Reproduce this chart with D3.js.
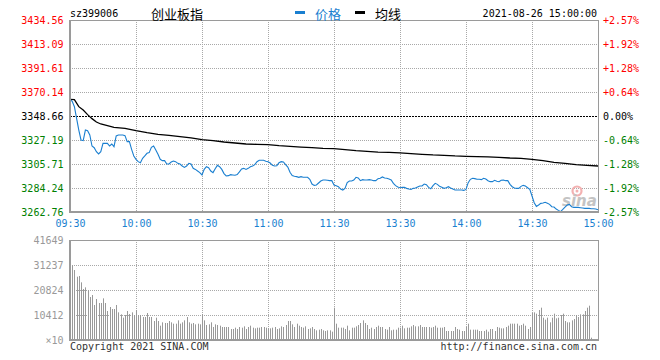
<!DOCTYPE html>
<html><head><meta charset="utf-8">
<script src="https://cdn.jsdelivr.net/npm/d3@7"></script>
<style>
body{margin:0;background:#fff}
svg{display:block}
</style></head>
<body><svg id="c" width="660" height="360"></svg>
<script>
// ---------- data ----------
const code = "sz399006";
const indexName = "创业板指";
const dateText = "2021-08-26 15:00:00";
const legendNames = ["价格", "均线"];
const prevClose = 3348.66;
const priceTicks = [3434.56,3413.09,3391.61,3370.14,3348.66,3327.19,3305.71,3284.24,3262.76];
const pctTicks = ["+2.57%","+1.92%","+1.28%","+0.64%","0.00%","-0.64%","-1.28%","-1.92%","-2.57%"];
const timeTicks = ["09:30","10:00","10:30","11:00","11:30","13:30","14:00","14:30","15:00"];
const volTicks = [41649,31237,20824,10412];
const volUnit = "×10";
const copyright = "Copyright 2021 SINA.COM";
const siteUrl = "http://finance.sina.com.cn";

// price per minute (index 0 = 09:30 ... 240 = 15:00)
const price = [
3363.6,3361.8,3357.0,3346.6,3336.1,3327.2,3326.6,3336.1,3335.5,3331.7,
3321.8,3320.3,3316.7,3314.7,3316.7,3324.2,3324.2,3324.2,3321.8,3323.6,
3321.2,3330.8,3331.7,3331.7,3331.7,3331.1,3325.7,3325.7,3318.8,3312.9,
3309.9,3307.8,3306.9,3310.8,3312.9,3315.3,3315.9,3320.6,3321.8,3318.2,
3314.4,3309.9,3308.7,3308.7,3305.7,3305.7,3307.5,3308.4,3307.8,3306.3,
3305.7,3303.9,3302.7,3303.9,3306.3,3305.7,3301.8,3300.9,3299.4,3298.0,
3295.9,
3300.9,3303.3,3302.4,3299.4,3298.0,3301.5,3304.5,3303.3,3300.9,3297.1,
3295.0,3295.3,3296.2,3295.9,3295.6,3296.2,3298.6,3301.2,3301.8,3300.9,
3301.8,3303.3,3303.9,3305.1,3307.8,3309.0,3309.0,3309.0,3308.1,3307.8,
3306.6,3304.5,3303.9,3304.2,3306.9,3307.8,3307.5,3305.1,3303.0,3298.3,
3295.3,3294.7,3294.4,3293.8,3294.4,3293.8,3293.8,3293.8,3292.0,3287.8,
3286.6,3286.9,3288.7,3290.5,3291.4,3291.4,3291.1,3290.8,3290.8,3286.9,
3286.3,3285.4,3283.3,3282.4,3283.9,3289.0,3290.5,3290.5,3291.4,3293.8,
3293.2,3290.8,3291.7,3291.4,3291.4,3291.7,3291.4,3290.8,3290.8,3292.6,
3292.9,3294.1,3293.2,3292.9,3292.3,3291.4,3288.4,3286.3,3285.1,3284.5,
3284.8,3284.8,3283.9,3283.3,3283.0,3283.9,3284.2,3285.1,3286.0,3286.0,
3287.8,3287.2,3284.8,3283.6,3286.3,3288.4,3287.5,3285.7,3284.8,3283.9,
3284.5,3285.4,3284.2,3283.3,3282.4,3282.4,3282.4,3282.4,3282.1,3283.0,
3289.0,3292.0,3292.9,3292.6,3292.0,3292.0,3291.7,3292.9,3292.3,3290.8,
3289.9,3289.9,3291.1,3290.2,3289.9,3291.1,3291.4,3290.8,3290.8,3287.5,
3285.4,3284.2,3283.9,3283.9,3285.7,3286.6,3286.0,3284.5,3283.0,3277.1,
3271.1,3267.8,3269.0,3270.5,3270.8,3271.4,3270.5,3269.6,3267.5,3267.2,
3265.4,3264.2,3263.1,3265.1,3267.2,3269.0,3269.6,3267.5,3266.9,3266.9,
3266.9,3266.6,3266.3,3266.0,3266.0,3266.0,3265.7,3265.7,3265.4,3264.8
];

// average line, read at these minute indexes
const avgMinute = [0,2,4,6,8,10,12,14,17,20,25,30,35,40,45,50,55,60,65,70,75,80,85,90,95,100,
105,110,115,120,125,130,135,140,145,150,155,160,165,170,175,180,185,190,195,200,205,210,215,220,225,230,235,240];
const avgPrice = [3363.6,3363.3,3357.0,3354.0,3349.9,3346.3,3343.3,3341.5,3340.0,3338.5,
3337.6,3335.5,3333.7,3332.3,3331.4,3330.2,3329.0,3327.5,3326.6,3325.4,3324.5,3323.6,3323.3,3323.0,
3322.1,3321.5,3320.9,3320.3,3319.7,3319.4,3318.5,3317.6,3317.0,3316.4,3316.1,3315.6,3315.0,3314.4,
3313.8,3313.5,3312.9,3312.6,3312.3,3312.0,3311.7,3311.1,3310.8,3309.9,3308.7,3307.2,3306.3,3305.1,3304.5,3303.9];

// volume per minute, minutes 1..240
const volume = [
31091,29148,26372,26650,24012,21236,21930,20681,17905,18738,
14574,17072,15407,15407,17350,15407,12076,13741,12908,12908,
14574,11520,10688,9300,10410,12076,10826,11520,10410,12492,
10410,10410,9577,9577,11243,9577,9577,7912,9300,7912,
5968,7356,7079,7079,7912,7356,6801,6801,8189,6801,
7356,8189,9577,7356,6801,7079,6524,6801,6524,10826,
8189,6246,6524,7356,5413,6524,6246,5968,5413,5413,
5413,5413,4580,4580,5136,4580,5413,5136,5691,4580,
5413,5968,5136,4858,5136,5136,5413,5413,5136,4858,
4858,5136,5413,4580,4858,5691,5413,6246,7912,7912,
6524,5413,6801,5968,5413,5136,5691,4580,4858,5413,
4580,4025,4303,4580,4025,3748,4025,4025,3470,13464,
6801,5136,5136,5136,4580,5968,4025,5136,5136,5691,
6246,7079,8189,7079,6246,4580,5136,4580,5413,5968,
5413,5413,4580,4303,5413,4025,4303,4303,5136,5136,
5968,4858,5136,5136,5691,6246,5691,5691,6246,5413,
5413,5413,5413,5136,5413,5968,5136,5136,5136,5413,
3748,3748,3748,3748,5413,4580,4303,3748,3748,5413,
6801,4303,4303,4303,4303,3748,3748,3748,4303,3470,
4580,4580,3748,5413,5136,4858,4858,5413,5968,6801,
6801,6801,6801,5968,6246,6801,5968,4580,5413,11243,
11520,10965,12492,13464,9300,8467,9300,7356,9300,10965,
9022,9300,10410,10965,7912,7356,7356,8189,8744,10410,
9577,10688,10688,12076,13464,14296,972,0,0,0
];

// ---------- layout ----------
const L = 70, R = 598, PT = 20, PB = 212, VT = 240, VB = 340;
const MONO = "'DejaVu Sans Mono','Liberation Mono',monospace";
const CJK = "'Noto Sans CJK SC','Noto Sans',sans-serif";
const BLUE = "#1a7fd0", GRID = "#a8a8a8", FRAME = "#9a9a9a";
const RED = "#ff0000", GREEN = "#008000";

const svg = d3.select("#c");
const x = d3.scaleLinear().domain([0, 240]).range([L, R]);
const y = d3.scaleLinear().domain([priceTicks[priceTicks.length-1], priceTicks[0]]).range([PB, PT]);
const yv = d3.scaleLinear().domain([0, volTicks[0]]).range([VB, VT]);
const colorOf = v => v > prevClose + 0.001 ? RED : (v < prevClose - 0.001 ? GREEN : "#000");
const crisp = v => Math.round(v) + 0.5;

// ---------- grids ----------
const grid = svg.append("g");
const vIdx = d3.range(30, 240, 30);
// price area
grid.selectAll(".pv").data(vIdx).join("line")
  .attr("x1", d => crisp(x(d))).attr("x2", d => crisp(x(d)))
  .attr("y1", PT).attr("y2", PB)
  .attr("stroke", GRID).attr("stroke-dasharray", "1,1");
grid.selectAll(".ph").data(priceTicks.slice(1, -1).filter(v => v !== prevClose)).join("line")
  .attr("x1", L).attr("x2", R)
  .attr("y1", d => crisp(y(d))).attr("y2", d => crisp(y(d)))
  .attr("stroke", GRID).attr("stroke-dasharray", "1,1");
// volume area
grid.selectAll(".vv").data(vIdx).join("line")
  .attr("x1", d => crisp(x(d))).attr("x2", d => crisp(x(d)))
  .attr("y1", VT).attr("y2", VB)
  .attr("stroke", GRID).attr("stroke-dasharray", "1,1");
grid.selectAll(".vh").data(volTicks.slice(1)).join("line")
  .attr("x1", L).attr("x2", R)
  .attr("y1", d => crisp(yv(d))).attr("y2", d => crisp(yv(d)))
  .attr("stroke", GRID).attr("stroke-dasharray", "1,1");

// zero line (previous close)
svg.append("line")
  .attr("x1", L).attr("x2", R)
  .attr("y1", crisp(y(prevClose))).attr("y2", crisp(y(prevClose)))
  .attr("stroke", "#000").attr("stroke-dasharray", "2,1");

// ---------- watermark ----------
const wm = svg.append("g");
wm.append("circle").attr("cx", 577).attr("cy", 191).attr("r", 4.5)
  .attr("fill", "none").attr("stroke", "#f3b1b1").attr("stroke-width", 2.2);
wm.append("circle").attr("cx", 577).attr("cy", 191).attr("r", 1.5).attr("fill", "#f3b1b1");
wm.append("text").attr("x", 562).attr("y", 206)
  .attr("font-family", "'DejaVu Sans',sans-serif").attr("font-style", "italic")
  .attr("font-weight", "bold").attr("font-size", 15).attr("fill", "#c4c4c4").text("sina");

// ---------- volume bars ----------
svg.append("g").selectAll("rect").data(volume).join("rect")
  .attr("x", (d, i) => Math.round(x(i + 1)))
  .attr("width", 1)
  .attr("y", d => yv(d))
  .attr("height", d => VB - yv(d))
  .attr("fill", "#999");

// ---------- lines ----------
svg.append("path").datum(avgPrice)
  .attr("d", d3.line().x((d, i) => x(avgMinute[i])).y(d => y(d)))
  .attr("fill", "none").attr("stroke", "#000").attr("stroke-width", 1.3);
svg.append("path").datum(price)
  .attr("d", d3.line().x((d, i) => x(i)).y(d => y(d)))
  .attr("fill", "none").attr("stroke", BLUE).attr("stroke-width", 1.1);

// ---------- frames ----------
function frame(top, bottom) {
  const f = svg.append("g").attr("stroke", FRAME).attr("fill", "none");
  f.append("line").attr("x1", L).attr("x2", R + 1).attr("y1", top + 0.5).attr("y2", top + 0.5);
  f.append("line").attr("x1", R + 0.5).attr("x2", R + 0.5).attr("y1", top).attr("y2", bottom + 1);
  f.append("line").attr("x1", L - 1).attr("x2", R + 1).attr("y1", bottom).attr("y2", bottom).attr("stroke-width", 2);
  f.append("line").attr("x1", L).attr("x2", L).attr("y1", top).attr("y2", bottom + 1).attr("stroke-width", 2);
}
frame(PT, PB);
frame(VT, VB);

// ---------- axes ----------
function styleAxis(g) {
  g.select(".domain").remove();
  g.selectAll("line").remove();
  g.attr("font-family", MONO).attr("font-size", 10);
}
svg.append("g").attr("transform", `translate(${L - 0.5},0)`)
  .call(d3.axisLeft(y).tickValues(priceTicks).tickSize(0).tickPadding(6).tickFormat(d3.format(".2f")))
  .call(styleAxis)
  .selectAll("text").attr("fill", d => colorOf(d));

svg.append("g").attr("transform", `translate(${R},0)`)
  .call(d3.axisRight(y).tickValues(priceTicks).tickSize(0).tickPadding(5).tickFormat((d, i) => pctTicks[i]))
  .call(styleAxis)
  .selectAll("text").attr("fill", d => colorOf(d));

svg.append("g").attr("transform", `translate(0,${PB})`)
  .call(d3.axisBottom(x).tickValues(d3.range(0, 241, 30)).tickSize(0).tickPadding(8).tickFormat((d, i) => timeTicks[i]))
  .call(styleAxis)
  .selectAll("text").attr("fill", BLUE);

svg.append("g").attr("transform", `translate(${L - 0.5},0)`)
  .call(d3.axisLeft(yv).tickValues(volTicks.concat([0])).tickSize(0).tickPadding(6)
    .tickFormat(d => d === 0 ? volUnit : String(d)))
  .call(styleAxis)
  .selectAll("text").attr("fill", "#999");

// ---------- header ----------
svg.append("text").attr("x", L).attr("y", 13).attr("dy", "0.35em")
  .attr("font-family", MONO).attr("font-size", 10).attr("fill", "#000").text(code);
svg.append("text").attr("x", 151).attr("y", 13).attr("dominant-baseline", "central")
  .attr("font-family", CJK).attr("font-size", 13).attr("fill", "#000").text(indexName);
svg.append("rect").attr("x", 295).attr("y", 11).attr("width", 10).attr("height", 3).attr("fill", BLUE);
svg.append("text").attr("x", 315).attr("y", 13).attr("dominant-baseline", "central")
  .attr("font-family", CJK).attr("font-size", 13).attr("fill", BLUE).text(legendNames[0]);
svg.append("rect").attr("x", 355).attr("y", 11).attr("width", 10).attr("height", 3).attr("fill", "#000");
svg.append("text").attr("x", 375).attr("y", 13).attr("dominant-baseline", "central")
  .attr("font-family", CJK).attr("font-size", 13).attr("fill", "#000").text(legendNames[1]);
svg.append("text").attr("x", R - 1).attr("y", 13).attr("dy", "0.35em").attr("text-anchor", "end")
  .attr("font-family", MONO).attr("font-size", 10).attr("fill", "#000").text(dateText);

// ---------- footer ----------
svg.append("text").attr("x", L).attr("y", 346).attr("dy", "0.35em")
  .attr("font-family", MONO).attr("font-size", 10).attr("fill", "#333").text(copyright);
svg.append("text").attr("x", R - 1).attr("y", 346).attr("dy", "0.35em").attr("text-anchor", "end")
  .attr("font-family", MONO).attr("font-size", 10).attr("fill", "#333").text(siteUrl);
</script>
</body></html>
